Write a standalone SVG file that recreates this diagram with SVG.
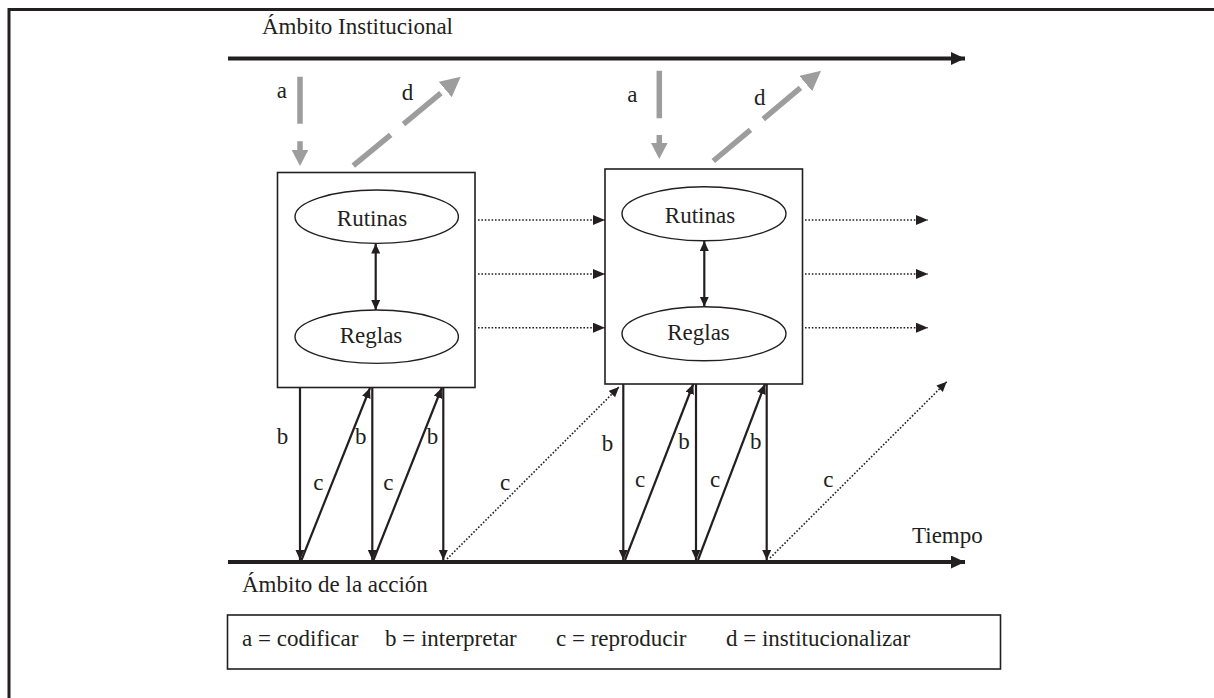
<svg xmlns="http://www.w3.org/2000/svg" width="1214" height="698" viewBox="0 0 1214 698">
<style>
text{font-family:"Liberation Serif","Times New Roman",serif;font-size:23px;fill:#231f20}
.mid{text-anchor:middle}
.ln{stroke:#231f20;stroke-width:2.2;fill:none}
.dot{stroke:#231f20;stroke-width:1.6;stroke-dasharray:1.6 1.8;fill:none}
.axis{stroke:#231f20;stroke-width:4;fill:none}
.gray{stroke:#9d9d9d;stroke-width:5.5;fill:none}
.box{stroke:#231f20;stroke-width:1.6;fill:#fff}
.ell{stroke:#231f20;stroke-width:1.4;fill:#fff}
</style>
<defs>
<marker id="ah" markerUnits="userSpaceOnUse" markerWidth="11" markerHeight="10" refX="10" refY="4.5" orient="auto-start-reverse"><path d="M0,0 L10,4.5 L0,9 z" fill="#231f20"/></marker>
<marker id="dh" markerUnits="userSpaceOnUse" markerWidth="13" markerHeight="11" refX="12" refY="5" orient="auto"><path d="M0,0 L12,5 L0,10 z" fill="#231f20"/></marker>
<marker id="xh" markerUnits="userSpaceOnUse" markerWidth="16" markerHeight="14" refX="14" refY="6.5" orient="auto"><path d="M0,0 L14,6.5 L0,13 z" fill="#231f20"/></marker>
<marker id="ga" markerUnits="userSpaceOnUse" markerWidth="17" markerHeight="17" refX="0" refY="8.3" orient="auto"><path d="M0,0 L16,8.3 L0,16.6 z" fill="#9d9d9d"/></marker>
<marker id="gd" markerUnits="userSpaceOnUse" markerWidth="21" markerHeight="21" refX="0" refY="10" orient="auto"><path d="M0,0 L20,10 L0,20 z" fill="#9d9d9d"/></marker>
</defs>
<rect width="1214" height="698" fill="#fff"/>
<path d="M9,698 V9.5 H1214" stroke="#231f20" stroke-width="3" fill="none"/>

<g id="axes">
<line class="axis" x1="228" y1="58.5" x2="965" y2="58.5" marker-end="url(#xh)"/>
<line class="axis" x1="228" y1="562" x2="965" y2="562" marker-end="url(#xh)"/>
<text x="262" y="34">Ámbito Institucional</text>
<text x="242" y="592">Ámbito de la acción</text>
<text x="912" y="543">Tiempo</text>
</g>

<g id="node1">
<rect class="box" x="277.5" y="172.5" width="197.5" height="215"/>
<ellipse class="ell" cx="376.7" cy="216.7" rx="81.7" ry="26.7"/>
<text class="mid" x="372" y="226">Rutinas</text>
<ellipse class="ell" cx="376.7" cy="336.7" rx="81.7" ry="26.7"/>
<text class="mid" x="371" y="343">Reglas</text>
</g>

<g id="node2">
<rect class="box" x="605" y="169" width="197.5" height="215"/>
<ellipse class="ell" cx="704" cy="213.8" rx="82" ry="27"/>
<text class="mid" x="700" y="223">Rutinas</text>
<ellipse class="ell" cx="704" cy="333.8" rx="82" ry="27"/>
<text class="mid" x="698.5" y="340">Reglas</text>
</g>

<g id="legend">
<rect class="box" x="227.5" y="615" width="773" height="54"/>
<text x="242" y="646">a = codificar</text>
<text x="385" y="646">b = interpretar</text>
<text x="556" y="646">c = reproducir</text>
<text x="726" y="646">d = institucionalizar</text>
</g>

<g id="connectors">
<!-- gray a/d arrows -->
<line class="gray" x1="300" y1="76.7" x2="300" y2="150" stroke-dasharray="47 17.5" marker-end="url(#ga)"/>
<line class="gray" x1="353.3" y1="165.7" x2="445.3" y2="89.5" stroke-dasharray="48.5 16.7" marker-end="url(#gd)"/>
<line class="gray" x1="659.3" y1="70.7" x2="659.3" y2="143" stroke-dasharray="47.6 16.7" marker-end="url(#ga)"/>
<line class="gray" x1="713.3" y1="161" x2="805.7" y2="83.5" stroke-dasharray="48.5 16.7" marker-end="url(#gd)"/>
<!-- double arrows -->
<line class="ln" x1="375.7" y1="243.5" x2="375.7" y2="310" marker-start="url(#ah)" marker-end="url(#ah)"/>
<line class="ln" x1="704.3" y1="241" x2="704.3" y2="306.8" marker-start="url(#ah)" marker-end="url(#ah)"/>
<!-- dotted horizontal -->
<line class="dot" x1="478" y1="220" x2="605" y2="220" marker-end="url(#dh)"/>
<line class="dot" x1="478" y1="274" x2="605" y2="274" marker-end="url(#dh)"/>
<line class="dot" x1="478" y1="327.7" x2="605" y2="327.7" marker-end="url(#dh)"/>
<line class="dot" x1="805" y1="220" x2="928" y2="220" marker-end="url(#dh)"/>
<line class="dot" x1="805" y1="274" x2="928" y2="274" marker-end="url(#dh)"/>
<line class="dot" x1="805" y1="327.7" x2="928" y2="327.7" marker-end="url(#dh)"/>
<!-- node1 b/c -->
<line class="ln" x1="300" y1="388" x2="300" y2="560" marker-end="url(#ah)"/>
<line class="ln" x1="301.5" y1="560" x2="370" y2="388" marker-end="url(#ah)"/>
<line class="ln" x1="372.3" y1="388" x2="372.3" y2="560" marker-end="url(#ah)"/>
<line class="ln" x1="373.5" y1="560" x2="441.7" y2="388" marker-end="url(#ah)"/>
<line class="ln" x1="443.3" y1="388" x2="443.3" y2="560" marker-end="url(#ah)"/>
<line class="dot" x1="447" y1="559" x2="619" y2="387" marker-end="url(#ah)"/>
<!-- node2 b/c -->
<line class="ln" x1="623.3" y1="384" x2="623.3" y2="560" marker-end="url(#ah)"/>
<line class="ln" x1="625" y1="560" x2="693.3" y2="384" marker-end="url(#ah)"/>
<line class="ln" x1="696" y1="384" x2="696" y2="560" marker-end="url(#ah)"/>
<line class="ln" x1="698" y1="560" x2="765" y2="384" marker-end="url(#ah)"/>
<line class="ln" x1="766.7" y1="384" x2="766.7" y2="560" marker-end="url(#ah)"/>
<line class="dot" x1="770" y1="558" x2="946.7" y2="381.7" marker-end="url(#ah)"/>
<!-- labels -->
<text x="276.7" y="98">a</text>
<text x="401.7" y="100">d</text>
<text x="627.3" y="101.7">a</text>
<text x="754" y="105">d</text>
<text x="276.7" y="444">b</text>
<text x="355" y="444">b</text>
<text x="426.7" y="444">b</text>
<text x="313.3" y="490">c</text>
<text x="383.3" y="490">c</text>
<text x="500" y="490">c</text>
<text x="601.7" y="451">b</text>
<text x="678.3" y="449">b</text>
<text x="750" y="449">b</text>
<text x="635" y="487">c</text>
<text x="710" y="487">c</text>
<text x="823.3" y="487">c</text>
</g>
</svg>
